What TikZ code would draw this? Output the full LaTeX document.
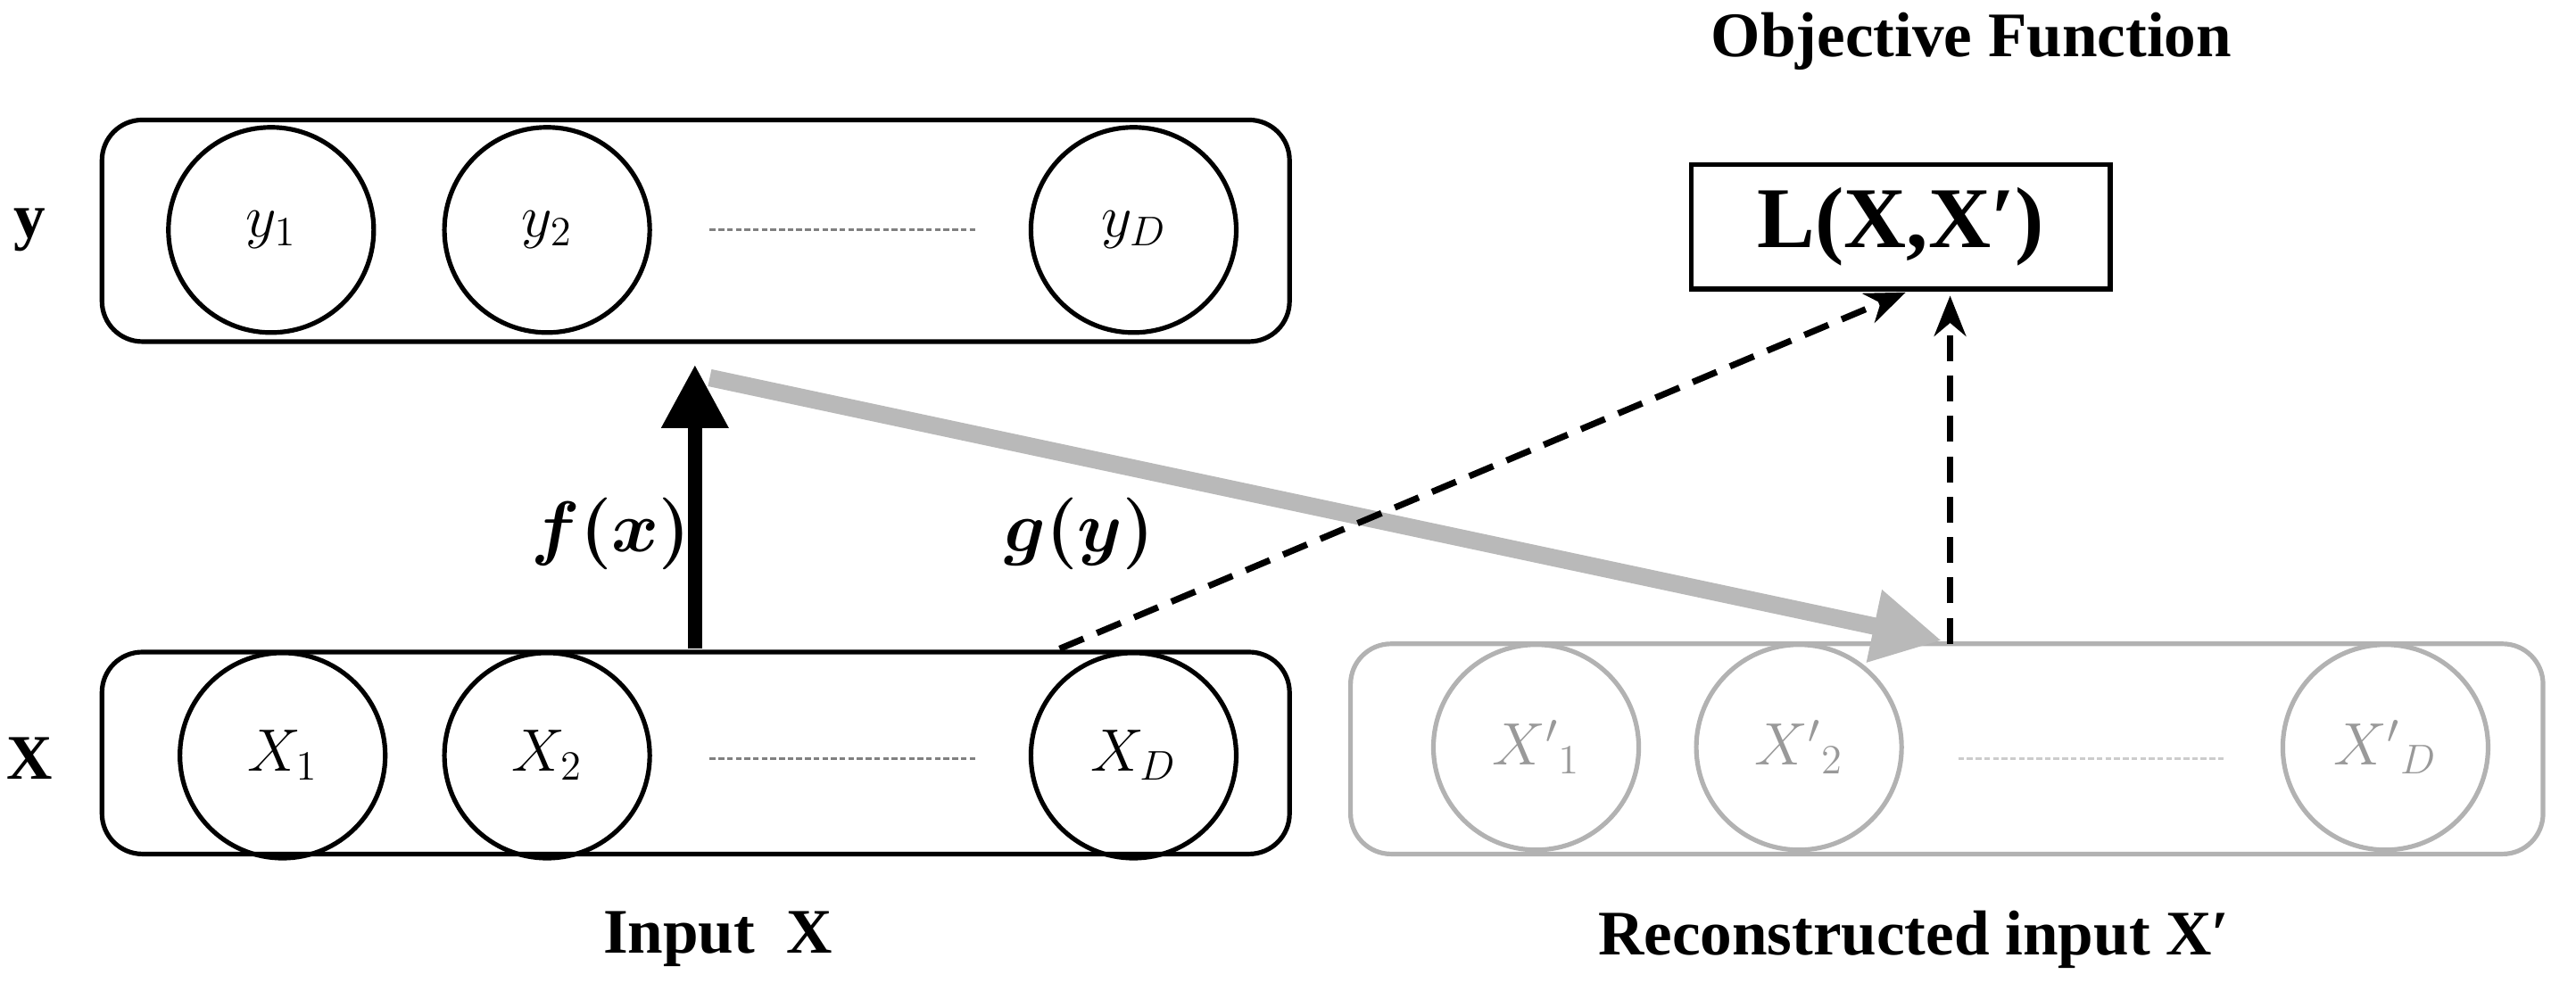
\documentclass[tikz,border=0pt]{standalone}
\usepackage{amsmath,bm}
\usepackage{fontspec}
\setmainfont{Liberation Serif}
\usetikzlibrary{arrows.meta}
\begin{document}
\begin{tikzpicture}[x=0.02cm,y=-0.02cm,
  box/.style={draw,line width=1.6pt,rounded corners=14pt},
  gbox/.style={draw=gray!60,line width=1.6pt,rounded corners=14pt},
  cir/.style={draw,circle,line width=1.6pt,minimum size=2.5cm,inner sep=0pt,font=\fontsize{22}{24}\selectfont},
  gcir/.style={draw=gray!60,text=gray!80,circle,line width=1.6pt,minimum size=2.5cm,inner sep=0pt,font=\fontsize{22}{24}\selectfont},
  lab/.style={font=\fontsize{22}{26}\selectfont\bfseries},
  dasharrow/.style={dash pattern=on 9pt off 5pt,line width=2.2pt,-{Stealth[length=14pt,width=11pt]}}]
\useasboundingbox (0,0) rectangle (1568,603);
\node[box,minimum width=14.46cm,minimum height=2.7cm] (ybox) at (423.5,140.5) {};
\node[box,minimum width=14.46cm,minimum height=2.46cm] (xbox) at (423.5,458.5) {};
\node[gbox,minimum width=14.52cm,minimum height=2.56cm] (xpbox) at (1185,456) {};
\node[cir] (y1) at (165,140) {$y_1$};
\node[cir] (y2) at (333,140) {$y_2$};
\node[cir] (yD) at (690,140) {$y_D$};
\node[cir] (x1) at (172,460) {$X_1$};
\node[cir] (x2) at (333,460) {$X_2$};
\node[cir] (xD) at (690,460) {$X_D$};
\node[gcir] (xp1) at (935,455) {$X'{}_1$};
\node[gcir] (xp2) at (1095,455) {$X'{}_2$};
\node[gcir] (xpD) at (1452,455) {$X'{}_D$};
\coordinate (a1) at (432,140); \coordinate (a2) at (595,140);
\draw[gray,line width=0.8pt,dash pattern=on 2pt off 1pt] (a1) -- (a2);
\coordinate (b1) at (432,462); \coordinate (b2) at (595,462);
\draw[gray,line width=0.8pt,dash pattern=on 2pt off 1pt] (b1) -- (b2);
\coordinate (c1) at (1192,462); \coordinate (c2) at (1355,462);
\draw[gray!40,line width=0.8pt,dash pattern=on 2pt off 1pt] (c1) -- (c2);
\node[lab] (ly) at (18,140) {y};
\node[lab] (lx) at (18,462) {X};
\node[draw,line width=1.6pt,minimum width=5.1cm,minimum height=1.52cm,font=\fontsize{30}{34}\selectfont\bfseries] (L) at (1157,138) {L(X,X′)};
\node[lab] (of) at (1200,25) {Objective Function};
\coordinate (f0) at (423,395); \coordinate (f1) at (423,222);
\draw[line width=5pt,-{Triangle[length=22pt,width=22pt]}] (f0) -- (f1);
\coordinate (g0) at (432,230); \coordinate (g1) at (1182,390);
\draw[gray!55,line width=6pt,-{Triangle[length=24pt,width=24pt]}] (g0) -- (g1);
\coordinate (d0) at (645,395); \coordinate (d1) at (1160,178);
\draw[dasharrow] (d0) -- (d1);
\coordinate (e0) at (1187,392); \coordinate (e1) at (1187,180);
\draw[dasharrow] (e0) -- (e1);
\node[font=\fontsize{24}{26}\selectfont] (fx) at (372,325) {$\boldsymbol{f(x)}$};
\node[font=\fontsize{24}{26}\selectfont] (gy) at (657,325) {$\boldsymbol{g(y)}$};
\node[lab] (in) at (437,572) {Input\ \ X};
\node[lab] (rin) at (1165,572) {Reconstructed input X′};
\end{tikzpicture}
\end{document}
